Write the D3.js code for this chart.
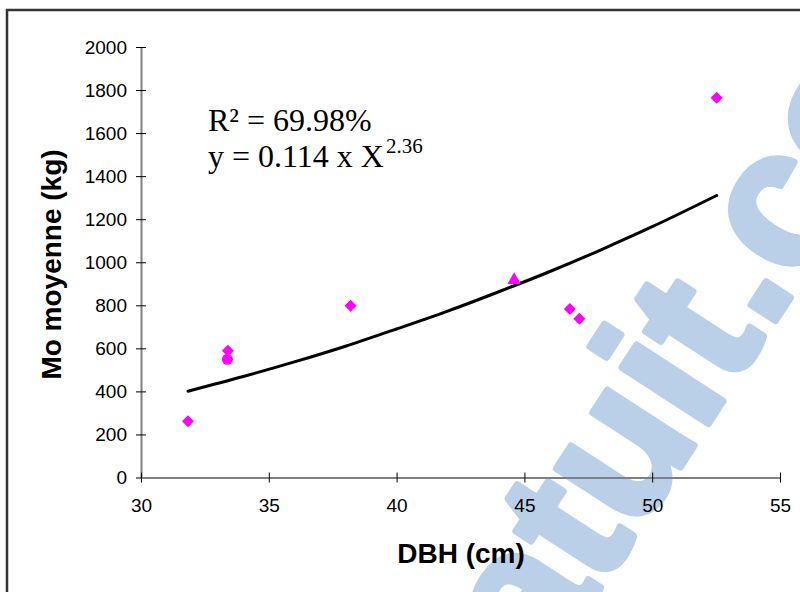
<!DOCTYPE html>
<html>
<head>
<meta charset="utf-8">
<script src="https://cdn.jsdelivr.net/npm/d3@7"></script>
<style>
  html, body { margin: 0; padding: 0; background: #fff; }
  svg { display: block; }
</style>
</head>
<body>
<svg id="chart" width="800" height="592"></svg>
<script>
// ---- data ----
const diamondX = [31.84, 33.4, 38.2, 46.78, 47.15, 52.52];
const diamondY = [261, 589, 798, 783, 738, 1764];
const circleX = [33.38];
const circleY = [549];
const triangleX = [44.6];
const triangleY = [917];
// fitted curve (y = 0.114 x X^2.36)
const trendX = [31.84, 34, 36, 38, 40, 42, 44, 46, 48, 50, 52.52];
const trendY = [401, 469, 537, 610, 690, 773, 863, 957, 1058, 1165, 1310];
const xTicks = [30, 35, 40, 45, 50, 55];
const yTicks = [0, 200, 400, 600, 800, 1000, 1200, 1400, 1600, 1800, 2000];
const xTitle = "DBH (cm)";
const yTitle = "Mo moyenne (kg)";
const r2Text = "R\u00B2 = 69.98%";
const eqText = "y = 0.114 x X";
const eqExp = "2.36";
const watermarkA = "rapport-gratuit";
const watermarkB = ".com";

const svg = d3.select("#chart");
svg.append("rect").attr("width", 800).attr("height", 592).attr("fill", "#fff");

// watermark (behind chart)
const wm = svg.append("g")
  .attr("transform", "translate(766,335) rotate(-57)")
  .attr("fill", "#bad0e8")
  .attr("stroke", "#bad0e8").attr("stroke-width", 7).attr("stroke-linejoin", "round")
  .style("font-family", "'Liberation Sans', Arial, sans-serif")
  .style("font-weight", "bold")
  .style("font-size", "195px");
wm.append("text").attr("text-anchor", "end").text(watermarkA);
wm.append("text").attr("text-anchor", "start").attr("dx", 4).text(watermarkB);

// outer frame
svg.append("rect")
  .attr("x", 7).attr("y", 10).attr("width", 820).attr("height", 620)
  .attr("fill", "none").attr("stroke", "#333").attr("stroke-width", 2.5);

const x = d3.scaleLinear().domain([30, 55]).range([141, 780]);
const y = d3.scaleLinear().domain([0, 2000]).range([477.5, 47]);

const tickFont = "'Liberation Sans', Arial, sans-serif";

// y axis
const gy = svg.append("g").attr("transform", `translate(${x(30)},0)`)
  .call(d3.axisLeft(y).tickValues(yTicks).tickFormat(d3.format("d"))
    .tickSizeInner(5).tickSizeOuter(0).tickPadding(9));
gy.select(".domain").attr("stroke", "#808080").attr("stroke-width", 2);
gy.selectAll(".tick line").attr("x1", 5).attr("x2", -5).attr("stroke", "#000").attr("stroke-width", 1);
gy.selectAll(".tick text").style("font-family", tickFont).style("font-size", "19px").attr("fill", "#000");

// x axis
const gx = svg.append("g").attr("transform", `translate(0,${y(0)})`)
  .call(d3.axisBottom(x).tickValues(xTicks).tickFormat(d3.format("d"))
    .tickSizeInner(5).tickSizeOuter(0).tickPadding(16));
gx.select(".domain").attr("stroke", "#808080").attr("stroke-width", 2);
gx.selectAll(".tick line").attr("y1", -5).attr("y2", 5).attr("stroke", "#000").attr("stroke-width", 1);
gx.selectAll(".tick text").style("font-family", tickFont).style("font-size", "19px").attr("fill", "#000");

// titles
svg.append("text")
  .attr("x", 461).attr("y", 563)
  .attr("text-anchor", "middle")
  .style("font-family", tickFont).style("font-weight", "bold").style("font-size", "28px")
  .text(xTitle);
svg.append("text")
  .attr("transform", "translate(61,264.5) rotate(-90)")
  .attr("text-anchor", "middle")
  .style("font-family", tickFont).style("font-weight", "bold").style("font-size", "28px")
  .text(yTitle);

// equation text
const serif = "'Liberation Serif', 'Times New Roman', serif";
svg.append("text").attr("x", 208).attr("y", 130.7)
  .style("font-family", serif).style("font-size", "32px").text(r2Text);
const eq = svg.append("text").attr("x", 208).attr("y", 166.7)
  .style("font-family", serif).style("font-size", "32px");
eq.append("tspan").text(eqText);
eq.append("tspan").attr("dx", 2).attr("dy", -13.4).style("font-size", "21px").text(eqExp);

// trend line
const line = d3.line().x((d, i) => x(trendX[i])).y((d, i) => y(trendY[i])).curve(d3.curveMonotoneX);
svg.append("path").datum(trendY).attr("d", line)
  .attr("fill", "none").attr("stroke", "#000").attr("stroke-width", 3).attr("stroke-linecap", "round");

const magenta = "#ff00ff";
// diamonds
svg.selectAll(".dia").data(diamondY).enter().append("path")
  .attr("transform", (d, i) => `translate(${x(diamondX[i])},${y(d)}) rotate(45)`)
  .attr("d", d3.symbol().type(d3.symbolSquare).size(72))
  .attr("fill", magenta);
// circle
svg.selectAll(".cir").data(circleY).enter().append("circle")
  .attr("cx", (d, i) => x(circleX[i])).attr("cy", d => y(d)).attr("r", 5.5)
  .attr("fill", magenta);
// triangle
svg.selectAll(".tri").data(triangleY).enter().append("path")
  .attr("transform", (d, i) => `translate(${x(triangleX[i])},${y(d)})`)
  .attr("d", d3.symbol().type(d3.symbolTriangle).size(80))
  .attr("fill", magenta);
</script>
</body>
</html>
